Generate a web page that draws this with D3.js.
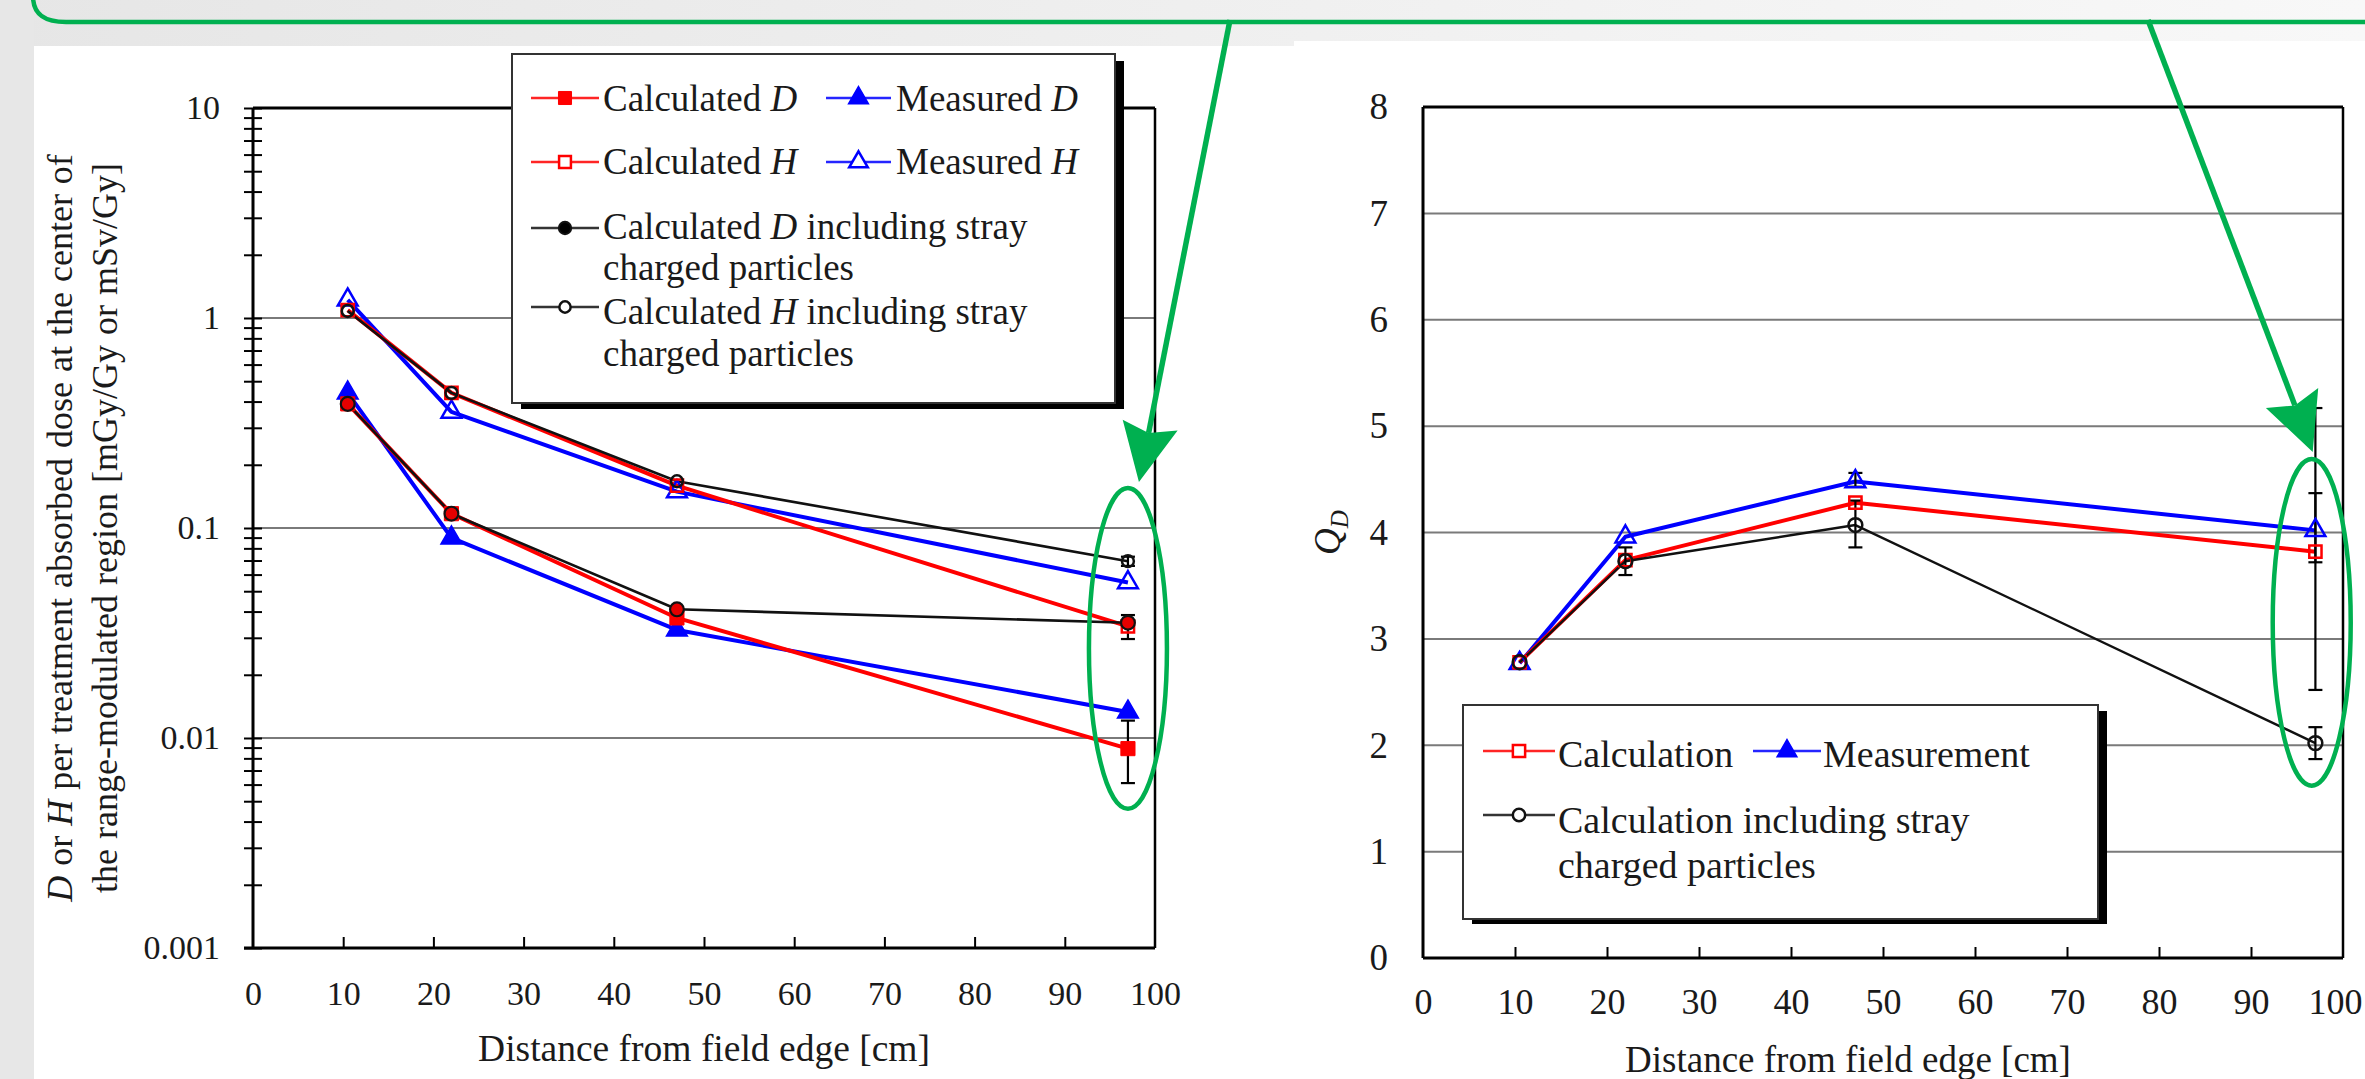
<!DOCTYPE html>
<html><head><meta charset="utf-8">
<script src="https://cdn.jsdelivr.net/npm/d3@7"></script>
<style>
body{margin:0;background:#fff;}
svg{display:block;}
text{font-family:'Liberation Serif','Times New Roman',serif;fill:#1a1a1a;}
</style>
</head><body>
<svg id="c" width="2365" height="1079"></svg>
<script>
// ---------------- data ----------------
const distances = [10.5, 22, 47, 97];
const xTicks = [0, 10, 20, 30, 40, 50, 60, 70, 80, 90, 100];

// left panel: dose per treatment absorbed dose (log scale)
const calcD      = [0.39, 0.117, 0.0373, 0.0089];
const measD      = [0.44, 0.0897, 0.0327, 0.0133];
const calcH      = [1.09, 0.44, 0.159, 0.034];
const measH      = [1.22, 0.357, 0.149, 0.055];
const calcDStray = [0.39, 0.117, 0.041, 0.0354];
const calcHStray = [1.08, 0.44, 0.167, 0.0695];
const errLeftX   = [97, 97, 97];
const errLeftLo  = [0.0061, 0.0296, 0.066];
const errLeftHi  = [0.0121, 0.0385, 0.073];
const yTicksLeft = [0.001, 0.01, 0.1, 1, 10];
const yTickLabelsLeft = ["0.001", "0.01", "0.1", "1", "10"];

// right panel: Q_D
const qdCalc  = [2.78, 3.74, 4.28, 3.82];
const qdMeas  = [2.77, 3.96, 4.48, 4.02];
const qdStray = [2.78, 3.73, 4.07, 2.02];
const errRightX  = [22, 47, 47, 97, 97, 97];
const errRightLo = [3.60, 3.86, 4.43, 2.52, 3.72, 1.87];
const errRightHi = [3.86, 4.30, 4.56, 5.17, 4.37, 2.17];
const yTicksRight = [0, 1, 2, 3, 4, 5, 6, 7, 8];

// annotation targets (data coordinates)
const hiLeft  = {x: 97, top: 0.155, bottom: 0.0046};
const hiRight = {x: 96.6, top: 4.69, bottom: 1.62};

// ---------------- setup ----------------
const W = 2365, H = 1079;
const svg = d3.select("#c");
const defs = svg.append("defs");
const grad = defs.append("linearGradient").attr("id", "band").attr("x1", 0).attr("x2", 1).attr("y1", 0).attr("y2", 0);
grad.append("stop").attr("offset", 0).attr("stop-color", "#e6e6e6");
grad.append("stop").attr("offset", 1).attr("stop-color", "#f8f8f8");
svg.append("rect").attr("width", W).attr("height", H).attr("fill", "url(#band)");
svg.append("rect").attr("x", 0).attr("y", 0).attr("width", 34).attr("height", H).attr("fill", "#e7e7e7");
svg.append("rect").attr("x", 34).attr("y", 46).attr("width", 1260).attr("height", H - 46).attr("fill", "#fff");
svg.append("rect").attr("x", 1294).attr("y", 41).attr("width", W - 1294).attr("height", H - 41).attr("fill", "#fff");

const RED = "#ff0000", BLUE = "#0000ff";
const FONT = "'Liberation Serif','Times New Roman',serif";

function sym(type, size) {
  const t = type === "square" ? d3.symbolSquare : type === "triangle" ? d3.symbolTriangle : d3.symbolCircle;
  return d3.symbol().type(t).size(size)();
}
function drawSeries(g, xs, ys, x, y, o) {
  const pts = xs.map((d, i) => [d, ys[i]]);
  g.append("path").datum(pts)
    .attr("d", d3.line().x(d => x(d[0])).y(d => y(d[1])))
    .attr("fill", "none").attr("stroke", o.color).attr("stroke-width", o.width)
    .attr("stroke-linejoin", "round");
  return pts;
}
function drawMarkers(g, pts, x, y, o) {
  g.selectAll(null).data(pts).join("path")
    .attr("transform", d => `translate(${x(d[0])},${y(d[1])})`)
    .attr("d", sym(o.type, o.size))
    .attr("fill", o.fill).attr("stroke", o.stroke).attr("stroke-width", o.sw);
}
function drawErrors(g, xs, lo, hi, x, y) {
  const data = xs.map((d, i) => ({x: d, lo: lo[i], hi: hi[i]}));
  const e = g.selectAll(null).data(data).join("g").attr("stroke", "#000").attr("stroke-width", 2.2);
  e.append("line").attr("x1", d => x(d.x)).attr("x2", d => x(d.x)).attr("y1", d => y(d.lo)).attr("y2", d => y(d.hi));
  e.append("line").attr("x1", d => x(d.x) - 7).attr("x2", d => x(d.x) + 7).attr("y1", d => y(d.lo)).attr("y2", d => y(d.lo));
  e.append("line").attr("x1", d => x(d.x) - 7).attr("x2", d => x(d.x) + 7).attr("y1", d => y(d.hi)).attr("y2", d => y(d.hi));
}
function legendText(g, x, yb, parts, size) {
  const t = g.append("text").attr("x", x).attr("y", yb).attr("font-size", size).attr("fill", "#222");
  parts.forEach(p => t.append("tspan").attr("font-style", p.i ? "italic" : "normal").text(p.t));
  return t;
}
function legendKey(g, x0, x1, y, color, type, size, fill, sw) {
  g.append("line").attr("x1", x0).attr("x2", x1).attr("y1", y).attr("y2", y)
    .attr("stroke", color).attr("stroke-width", 2.6).attr("opacity", 0.85);
  g.append("path").attr("transform", `translate(${(x0 + x1) / 2},${y})`).attr("d", sym(type, size))
    .attr("fill", fill).attr("stroke", color).attr("stroke-width", sw);
}

// ================= LEFT PANEL =================
const xL = d3.scaleLinear().domain([0, 100]).range([253, 1155]);
const yL = d3.scaleLog().domain([0.001, 10]).range([948, 108]);
const gL = svg.append("g");

gL.selectAll(null).data(yTicksLeft.slice(1, -1)).join("line")
  .attr("x1", xL(0)).attr("x2", xL(100)).attr("y1", d => yL(d)).attr("y2", d => yL(d))
  .attr("stroke", "#7a7a7a").attr("stroke-width", 2);

gL.append("line").attr("x1", xL(0)).attr("x2", xL(100)).attr("y1", yL(10)).attr("y2", yL(10)).attr("stroke", "#000").attr("stroke-width", 3);
gL.append("line").attr("x1", xL(100)).attr("x2", xL(100)).attr("y1", yL(10)).attr("y2", yL(0.001)).attr("stroke", "#000").attr("stroke-width", 2.5);
gL.append("line").attr("x1", xL(0)).attr("x2", xL(0)).attr("y1", yL(10)).attr("y2", yL(0.001)).attr("stroke", "#000").attr("stroke-width", 3);
gL.append("line").attr("x1", xL(0) - 9).attr("x2", xL(100)).attr("y1", yL(0.001)).attr("y2", yL(0.001)).attr("stroke", "#000").attr("stroke-width", 3);

const minorL = [];
yTicksLeft.slice(0, -1).forEach(d => { for (let k = 2; k < 10; k++) minorL.push(d * k); });
const yMinor = gL.append("g").attr("transform", `translate(${xL(0) + 9},0)`)
  .call(d3.axisLeft(yL).tickValues(minorL).tickSize(18).tickFormat(""));
yMinor.select(".domain").remove();
yMinor.selectAll("line").attr("stroke", "#000").attr("stroke-width", 2);
const yMajor = gL.append("g").attr("transform", `translate(${xL(0) + 9},0)`)
  .call(d3.axisLeft(yL).tickValues(yTicksLeft).tickSize(18).tickPadding(24).tickFormat((d, i) => yTickLabelsLeft[i]));
yMajor.select(".domain").remove();
yMajor.attr("font-family", FONT).attr("font-size", 34);
yMajor.selectAll("line").attr("stroke", "#000").attr("stroke-width", 2);
yMajor.selectAll("text").attr("fill", "#1a1a1a");

const xTickL = gL.append("g").attr("transform", `translate(0,${yL(0.001)})`)
  .call(d3.axisTop(xL).tickValues(xTicks.slice(1, -1)).tickSize(11).tickFormat(""));
xTickL.select(".domain").remove();
xTickL.selectAll("line").attr("stroke", "#000").attr("stroke-width", 2);
const xLabL = gL.append("g").attr("transform", `translate(0,${yL(0.001)})`)
  .call(d3.axisBottom(xL).tickValues(xTicks).tickSize(0).tickPadding(33));
xLabL.select(".domain").remove();
xLabL.attr("font-family", FONT).attr("font-size", 34);
xLabL.selectAll("text").attr("fill", "#1a1a1a");

gL.append("text").attr("x", (xL(0) + xL(100)) / 2).attr("y", 1061).attr("text-anchor", "middle")
  .attr("font-size", 37.5).text("Distance from field edge [cm]");
const yt1 = gL.append("text").attr("transform", `translate(72,${(yL(10) + yL(0.001)) / 2}) rotate(-90)`)
  .attr("text-anchor", "middle").attr("font-size", 36).attr("word-spacing", 1);
yt1.append("tspan").attr("font-style", "italic").text("D");
yt1.append("tspan").text(" or ");
yt1.append("tspan").attr("font-style", "italic").text("H");
yt1.append("tspan").text(" per treatment absorbed dose at the center of");
gL.append("text").attr("transform", `translate(117,${(yL(10) + yL(0.001)) / 2}) rotate(-90)`)
  .attr("text-anchor", "middle").attr("font-size", 36).attr("word-spacing", 1)
  .text("the range-modulated region [mGy/Gy  or  mSv/Gy]");

const pMeasD = drawSeries(gL, distances, measD, xL, yL, {color: BLUE, width: 4});
const pMeasH = drawSeries(gL, distances, measH, xL, yL, {color: BLUE, width: 4});
const pCalcD = drawSeries(gL, distances, calcD, xL, yL, {color: RED, width: 4});
const pCalcH = drawSeries(gL, distances, calcH, xL, yL, {color: RED, width: 4});
const pDStr = drawSeries(gL, distances, calcDStray, xL, yL, {color: "#111", width: 2.6});
const pHStr = drawSeries(gL, distances, calcHStray, xL, yL, {color: "#111", width: 2.6});
drawErrors(gL, errLeftX, errLeftLo, errLeftHi, xL, yL);
drawMarkers(gL, pMeasD, xL, yL, {type: "triangle", size: 190, fill: BLUE, stroke: BLUE, sw: 1.5});
drawMarkers(gL, pMeasH, xL, yL, {type: "triangle", size: 170, fill: "none", stroke: BLUE, sw: 2.5});
drawMarkers(gL, pCalcD, xL, yL, {type: "square", size: 200, fill: RED, stroke: RED, sw: 1});
drawMarkers(gL, pCalcH, xL, yL, {type: "square", size: 150, fill: "none", stroke: RED, sw: 2.5});
drawMarkers(gL, pDStr, xL, yL, {type: "circle", size: 150, fill: "#e60000", stroke: "#111", sw: 2.2});
drawMarkers(gL, pHStr, xL, yL, {type: "circle", size: 110, fill: "none", stroke: "#111", sw: 2.5});

// legend (left)
const lgL = svg.append("g");
lgL.append("rect").attr("x", 521).attr("y", 61).attr("width", 603).attr("height", 348).attr("fill", "#000");
lgL.append("rect").attr("x", 512).attr("y", 54).attr("width", 603).attr("height", 349).attr("fill", "#fff").attr("stroke", "#333").attr("stroke-width", 2);
legendKey(lgL, 531, 599, 98, RED, "square", 170, RED, 1);
legendText(lgL, 603, 111, [{t: "Calculated "}, {t: "D", i: 1}], 37);
legendKey(lgL, 826, 891, 98, BLUE, "triangle", 170, BLUE, 1.5);
legendText(lgL, 896, 111, [{t: "Measured "}, {t: "D", i: 1}], 37);
legendKey(lgL, 531, 599, 162, RED, "square", 140, "#fff", 2.5);
legendText(lgL, 603, 174, [{t: "Calculated "}, {t: "H", i: 1}], 37);
legendKey(lgL, 826, 891, 162, BLUE, "triangle", 150, "#fff", 2.5);
legendText(lgL, 896, 174, [{t: "Measured "}, {t: "H", i: 1}], 37);
legendKey(lgL, 531, 599, 228, "#111", "circle", 120, "#000", 2);
legendText(lgL, 603, 239, [{t: "Calculated "}, {t: "D", i: 1}, {t: " including stray"}], 37);
legendText(lgL, 603, 280, [{t: "charged particles"}], 37);
legendKey(lgL, 531, 599, 307, "#111", "circle", 100, "#fff", 2.5);
legendText(lgL, 603, 324, [{t: "Calculated "}, {t: "H", i: 1}, {t: " including stray"}], 37);
legendText(lgL, 603, 366, [{t: "charged particles"}], 37);

// ================= RIGHT PANEL =================
const xR = d3.scaleLinear().domain([0, 100]).range([1423, 2343]);
const yR = d3.scaleLinear().domain([0, 8]).range([958, 107]);
const gR = svg.append("g");

gR.selectAll(null).data(yTicksRight.slice(1, -1)).join("line")
  .attr("x1", xR(0)).attr("x2", xR(100)).attr("y1", d => yR(d)).attr("y2", d => yR(d))
  .attr("stroke", "#7a7a7a").attr("stroke-width", 2);
gR.append("line").attr("x1", xR(0)).attr("x2", xR(100)).attr("y1", yR(8)).attr("y2", yR(8)).attr("stroke", "#000").attr("stroke-width", 3);
gR.append("line").attr("x1", xR(100)).attr("x2", xR(100)).attr("y1", yR(8)).attr("y2", yR(0)).attr("stroke", "#000").attr("stroke-width", 2.5);
gR.append("line").attr("x1", xR(0)).attr("x2", xR(0)).attr("y1", yR(8)).attr("y2", yR(0)).attr("stroke", "#000").attr("stroke-width", 3);
gR.append("line").attr("x1", xR(0)).attr("x2", xR(100)).attr("y1", yR(0)).attr("y2", yR(0)).attr("stroke", "#000").attr("stroke-width", 3);

const yLabR = gR.append("g").attr("transform", `translate(${xR(0)},0)`)
  .call(d3.axisLeft(yR).tickValues(yTicksRight).tickSize(0).tickPadding(35).tickFormat(d3.format("d")));
yLabR.select(".domain").remove();
yLabR.attr("font-family", FONT).attr("font-size", 37);
yLabR.selectAll("text").attr("fill", "#1a1a1a");
const xTickR = gR.append("g").attr("transform", `translate(0,${yR(0)})`)
  .call(d3.axisTop(xR).tickValues(xTicks.slice(1, -1)).tickSize(11).tickFormat(""));
xTickR.select(".domain").remove();
xTickR.selectAll("line").attr("stroke", "#000").attr("stroke-width", 2);
const xLabR = gR.append("g").attr("transform", `translate(0,${yR(0)})`)
  .call(d3.axisBottom(xR).tickValues(xTicks).tickSize(0).tickPadding(30));
xLabR.select(".domain").remove();
xLabR.attr("font-family", FONT).attr("font-size", 36);
xLabR.selectAll("text").attr("fill", "#1a1a1a");
// keep the last label inside the page edge
xLabR.selectAll(".tick").filter(d => d === 100).select("text")
  .attr("text-anchor", "end").attr("x", W - 3 - xR(100));

gR.append("text").attr("x", 1848).attr("y", 1072).attr("text-anchor", "middle")
  .attr("font-size", 37).text("Distance from field edge [cm]");
const qd = gR.append("text").attr("transform", `translate(1340,${(yR(0) + yR(8)) / 2}) rotate(-90)`)
  .attr("text-anchor", "middle").attr("font-size", 37).attr("font-style", "italic");
qd.append("tspan").text("Q");
qd.append("tspan").attr("font-size", 25).attr("dy", 8).text("D");

const rMeas = drawSeries(gR, distances, qdMeas, xR, yR, {color: BLUE, width: 4});
const rCalc = drawSeries(gR, distances, qdCalc, xR, yR, {color: RED, width: 4});
const rStr = drawSeries(gR, distances, qdStray, xR, yR, {color: "#111", width: 2.4});
drawErrors(gR, errRightX, errRightLo, errRightHi, xR, yR);
drawMarkers(gR, rMeas, xR, yR, {type: "triangle", size: 170, fill: "none", stroke: BLUE, sw: 2.5});
drawMarkers(gR, rCalc, xR, yR, {type: "square", size: 150, fill: "none", stroke: RED, sw: 2.5});
drawMarkers(gR, rStr, xR, yR, {type: "circle", size: 150, fill: "none", stroke: "#111", sw: 2.5});

// legend (right)
const lgR = svg.append("g");
lgR.append("rect").attr("x", 1472).attr("y", 711).attr("width", 635).attr("height", 213).attr("fill", "#000");
lgR.append("rect").attr("x", 1463).attr("y", 705).attr("width", 635).attr("height", 214).attr("fill", "#fff").attr("stroke", "#333").attr("stroke-width", 2);
legendKey(lgR, 1483, 1555, 751, RED, "square", 150, "#fff", 2.5);
legendText(lgR, 1558, 767, [{t: "Calculation"}], 38);
legendKey(lgR, 1753, 1821, 751, BLUE, "triangle", 170, BLUE, 1.5);
legendText(lgR, 1823, 767, [{t: "Measurement"}], 38);
legendKey(lgR, 1483, 1555, 815, "#111", "circle", 120, "#fff", 2.5);
legendText(lgR, 1558, 833, [{t: "Calculation including stray"}], 38);
legendText(lgR, 1558, 878, [{t: "charged particles"}], 38);

// ================= GREEN ANNOTATIONS =================
const GREEN = "#00b050";
const ga = svg.append("g").attr("stroke", GREEN).attr("fill", "none").attr("stroke-width", 4.5);
ga.append("path").attr("d", "M33,-4 C33,14 44,22 66,22 L2370,22");
function ellipse(cx, top, bottom) {
  ga.append("ellipse").attr("cx", cx).attr("cy", (top + bottom) / 2).attr("rx", 39).attr("ry", (bottom - top) / 2);
}
function arrow(x0, y0, x1, y1) {
  const dx = x1 - x0, dy = y1 - y0, L = Math.hypot(dx, dy), ux = dx / L, uy = dy / L;
  const hl = 58, hw = 28, notch = 8;
  const bx = x1 - ux * hl, by = y1 - uy * hl;
  ga.append("line").attr("x1", x0).attr("y1", y0).attr("x2", bx + ux * notch).attr("y2", by + uy * notch).attr("stroke-width", 5.5);
  const pts = [[x1, y1], [bx - uy * hw, by + ux * hw], [bx + ux * notch, by + uy * notch], [bx + uy * hw, by - ux * hw]];
  ga.append("path").attr("d", "M" + pts.map(p => p.join(",")).join("L") + "Z").attr("fill", GREEN).attr("stroke", "none");
}
const eL = {cx: xL(hiLeft.x), top: yL(hiLeft.top), bottom: yL(hiLeft.bottom)};
const eR = {cx: xR(hiRight.x), top: yR(hiRight.top), bottom: yR(hiRight.bottom)};
ellipse(eL.cx, eL.top, eL.bottom);
ellipse(eR.cx, eR.top, eR.bottom);
arrow(1230, 20, eL.cx + 11, eL.top - 6);
arrow(2148, 20, eR.cx + 1, eR.top - 7);
</script>
</body></html>
